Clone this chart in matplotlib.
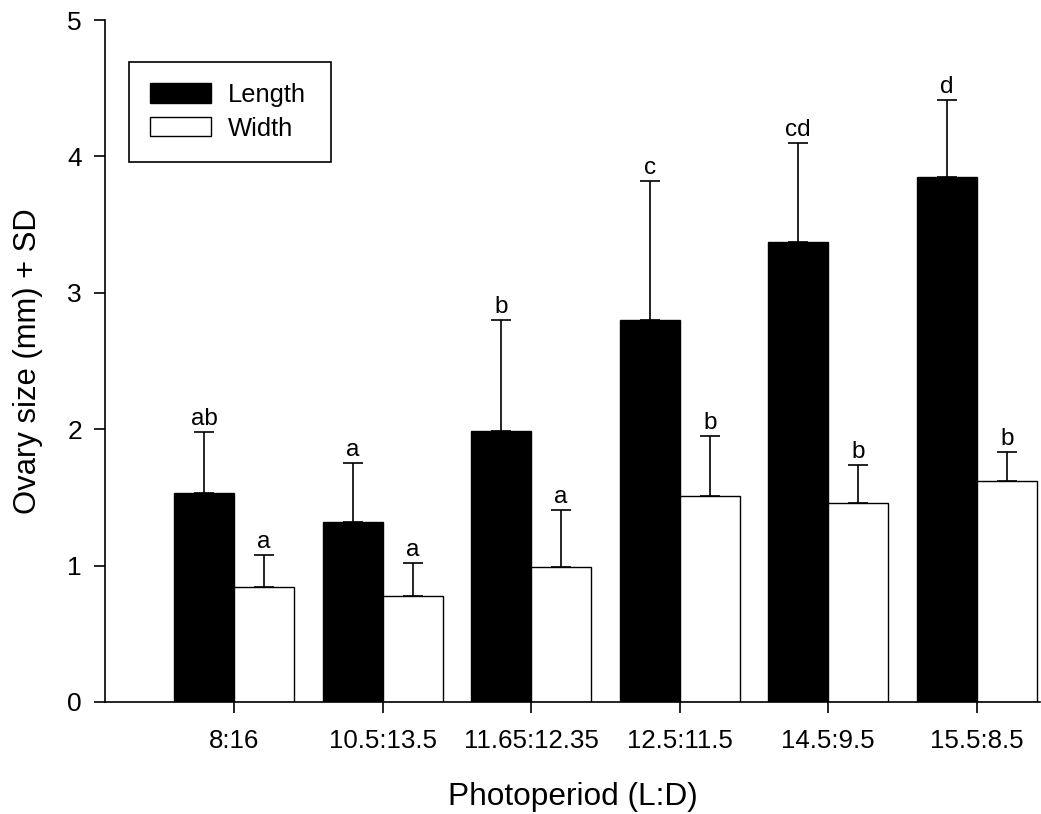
import numpy as np
import matplotlib
matplotlib.use('Agg')
import matplotlib.pyplot as plt

plt.rcParams['font.family'] = ['Liberation Sans', 'DejaVu Sans']

# data
periods = ['8:16', '10.5:13.5', '11.65:12.35', '12.5:11.5', '14.5:9.5', '15.5:8.5']
length_mean = [1.53, 1.32, 1.99, 2.80, 3.37, 3.85]
length_sd = [0.45, 0.43, 0.81, 1.02, 0.73, 0.56]
width_mean = [0.84, 0.78, 0.99, 1.51, 1.46, 1.62]
width_sd = [0.24, 0.24, 0.42, 0.44, 0.28, 0.21]
length_letters = ['ab', 'a', 'b', 'c', 'cd', 'd']
width_letters = ['a', 'a', 'a', 'b', 'b', 'b']

fig = plt.figure(figsize=(10.41, 8.14), dpi=100)
ax = fig.add_axes([0.1009, 0.1376, 0.898, 0.8378])

x = np.arange(len(periods))
w = 0.404

err_style = dict(elinewidth=1.2, capthick=1.2, ecolor='black')
ax.bar(x - w/2, length_mean, w, color='black', edgecolor='black', linewidth=1,
       yerr=[np.zeros(6), length_sd], capsize=7.4, error_kw=err_style, label='Length')
ax.bar(x + w/2, width_mean, w, color='white', edgecolor='black', linewidth=1,
       yerr=[np.zeros(6), width_sd], capsize=7.4, error_kw=err_style, label='Width')

# significance letters
for i in range(len(periods)):
    ax.annotate(length_letters[i], (x[i] - w/2, length_mean[i] + length_sd[i]),
                xytext=(0, 1.5), textcoords='offset points', ha='center', va='bottom', fontsize=17.5)
    ax.annotate(width_letters[i], (x[i] + w/2, width_mean[i] + width_sd[i]),
                xytext=(0, 1.5), textcoords='offset points', ha='center', va='bottom', fontsize=17.5)

ax.set_xlim(-0.868, 5.424)
ax.set_ylim(0, 5)
ax.set_xticks(x)
ax.set_xticklabels(periods, fontsize=18.6)
ax.set_yticks(range(6))
ax.tick_params(axis='y', labelsize=19, length=8, width=1.2, pad=8.6)
ax.tick_params(axis='x', length=8, width=1.2, pad=11.5)
for s in ['top', 'right']:
    ax.spines[s].set_visible(False)
ax.spines['left'].set_linewidth(1.2)
ax.spines['bottom'].set_linewidth(1.2)

ax.set_xlabel('Photoperiod (L:D)', fontsize=22.8, labelpad=21)
ax.set_ylabel('Ovary size (mm) + SD', fontsize=22.3, labelpad=17.5)

leg = ax.legend(loc='upper left', bbox_to_anchor=(0.0257, 0.5, 0.216, 0.4384),
                mode='expand', borderaxespad=0, fontsize=18.4,
                frameon=True, fancybox=False, edgecolor='black', framealpha=1,
                handlelength=2.4, handleheight=0.78, handletextpad=0.63,
                borderpad=0.82, labelspacing=0.38)
leg.get_frame().set_linewidth(1.2)

fig.savefig('out.png', dpi=100)
